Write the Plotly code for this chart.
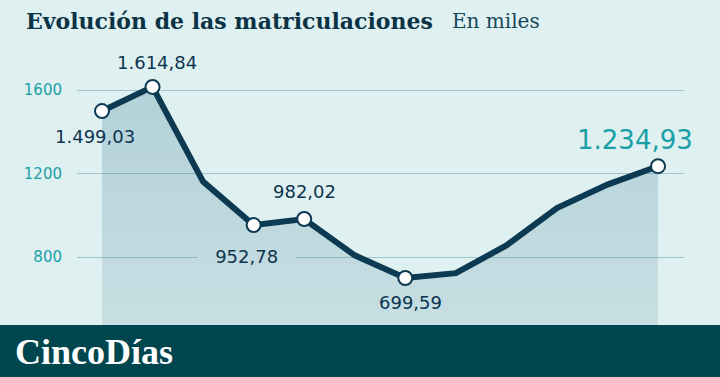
import plotly.graph_objects as go

years = ["2006", "2007", "2008", "2009", "2010", "2011", "2012", "2013", "2014", "2015", "2016", "2017"]
values = [1499.03, 1614.84, 1161.0, 952.78, 982.02, 808.0, 699.59, 722.7, 855.3, 1034.2, 1147.0, 1234.93]
tick_vals = [800, 1200, 1600]
tick_text = ["800", "1200", "1600"]

# labelled points: index -> (text, xshift, yshift, color, size)
labels = {
    0: ("1.499,03", -7, -25, "#0d3550", 18),
    1: ("1.614,84", 4, 24, "#0d3550", 18),
    3: ("952,78", -7, -31, "#0d3550", 18),
    4: ("982,02", 0, 28, "#0d3550", 18),
    6: ("699,59", 5, -25, "#0d3550", 18),
    11: ("1.234,93", -23, 26, "#1a9fa6", 26),
}

x = list(range(len(years)))
lx = [x[i] for i in labels]
ly = [values[i] for i in labels]

fig = go.Figure()
fig.add_trace(go.Scatter(
    x=x, y=values, mode="lines",
    line=dict(color="#0b3a52", width=6),
    fill="tozeroy",
    fillgradient=dict(type="vertical", colorscale=[[0, "rgba(40,110,140,0.09)"], [1, "rgba(40,110,140,0.24)"]]),
    hoverinfo="skip",
))
fig.add_trace(go.Scatter(
    x=lx, y=ly, mode="markers",
    marker=dict(size=14, color="#ffffff", opacity=1, line=dict(color="#0b3a52", width=2)),
    hoverinfo="skip",
))

for i, (txt, xs, ys, col, sz) in labels.items():
    extra = {}
    if i == 3:
        txt = "\u00a0\u00a0\u00a0" + txt + "\u00a0\u00a0\u00a0"
        extra = dict(bgcolor="#c3dbe0", borderpad=0)
    fig.add_annotation(x=x[i], y=values[i], text=txt, showarrow=False,
                       xshift=xs, yshift=ys,
                       font=dict(family="DejaVu Sans", size=sz, color=col), **extra)

fig.update_layout(
    width=720, height=377,
    margin=dict(l=77, r=36, t=40, b=52),
    paper_bgcolor="#dff0f0", plot_bgcolor="#dff0f0",
    showlegend=False, hovermode=False,
    xaxis=dict(range=[-0.4946, 11.514], visible=False, fixedrange=True),
    yaxis=dict(range=[474.3, 1839.5], tickvals=tick_vals, ticktext=tick_text, fixedrange=True,
               showgrid=True, gridcolor="#9fc5ce", gridwidth=1, zeroline=False,
               showline=False, ticks="", ticklabelstandoff=14,
               tickfont=dict(family="DejaVu Sans", size=15, color="#1aa0a8")),
    shapes=[dict(type="rect", xref="paper", yref="paper", x0=-0.2, x1=1.1, y0=-0.1825, y1=0,
                 fillcolor="#00464e", line=dict(width=0), layer="above")],
)

fig.add_annotation(xref="paper", yref="paper", x=-0.088, y=1.068, xanchor="left", yanchor="middle",
                   text="<b>Evolución de las matriculaciones</b>", showarrow=False,
                   font=dict(family="DejaVu Serif", size=22, color="#0b3346"))
fig.add_annotation(xref="paper", yref="paper", x=0.614, y=1.066, xanchor="left", yanchor="middle",
                   text="En miles", showarrow=False,
                   font=dict(family="DejaVu Serif", size=20, color="#15475a"))
fig.add_annotation(xref="paper", yref="paper", x=-0.106, y=-0.095, xanchor="left", yanchor="middle",
                   text="<b>CincoDías</b>", showarrow=False,
                   font=dict(family="Liberation Serif", size=36, color="white"))

fig.write_html("out.html", config={"displayModeBar": False},
               post_script="document.body.style.margin='0';")
